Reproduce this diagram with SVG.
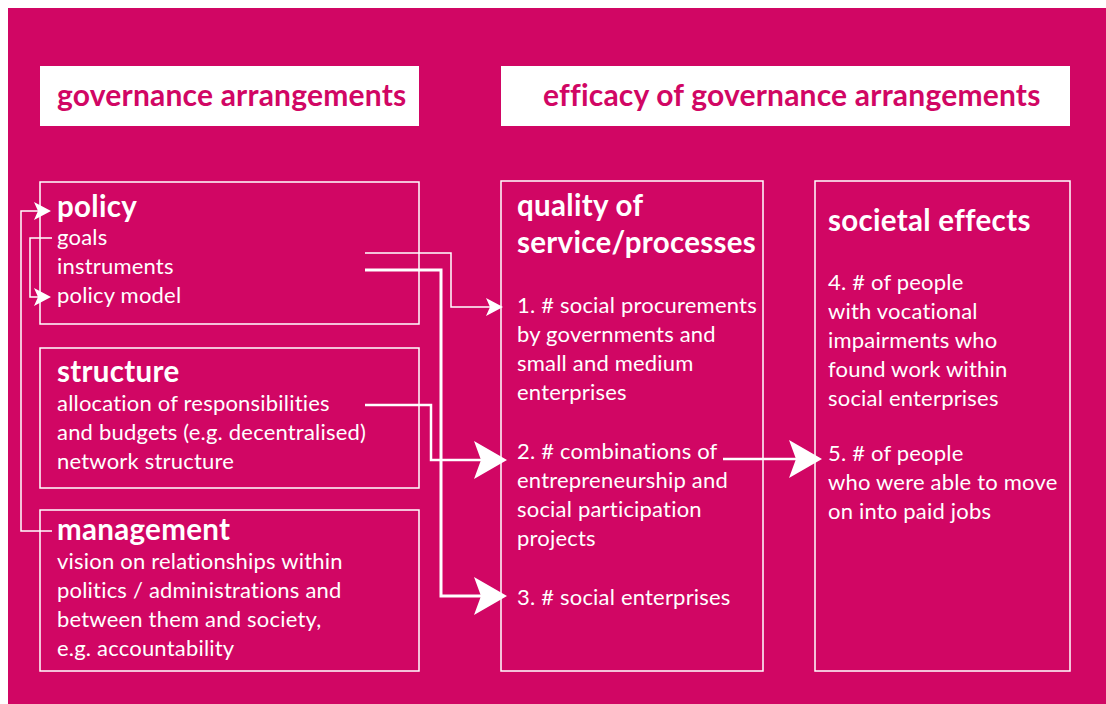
<svg xmlns="http://www.w3.org/2000/svg" width="1106" height="704" viewBox="0 0 1106 704">
<defs>
<style>
.bg{fill:#D10664}
.hdr{fill:#fff}
.box{fill:none;stroke:#fff;stroke-width:1.5}
.ht{font-family:Lato,"Liberation Sans",sans-serif;font-weight:bold;font-size:30px;letter-spacing:0.2px;fill:#D10664}
.tt{font-family:Lato,"Liberation Sans",sans-serif;font-weight:bold;font-size:29.5px;letter-spacing:0.3px;fill:#fff}
.bt{font-family:Lato,"Liberation Sans",sans-serif;font-size:22px;letter-spacing:0.2px;fill:#fff}
.ln{fill:none;stroke:#fff}
.ah{fill:#fff}
</style>
</defs>
<rect x="0" y="0" width="1106" height="704" fill="#fff"/>
<rect class="bg" x="8" y="8" width="1098" height="696"/>

<g id="header-governance">
<rect class="hdr" x="40" y="66" width="379" height="60"/>
<text class="ht" x="57" y="106">governance arrangements</text>
</g>
<g id="header-efficacy">
<rect class="hdr" x="501" y="66" width="569" height="60"/>
<text class="ht" x="543" y="106">efficacy of governance arrangements</text>
</g>

<g id="policy">
<rect class="box" x="40" y="182" width="379" height="142"/>
<text class="tt" x="57" y="217">policy</text>
<text class="bt" x="57" y="245">goals</text>
<text class="bt" x="57" y="274">instruments</text>
<text class="bt" x="57" y="303">policy model</text>
</g>

<g id="structure">
<rect class="box" x="40" y="348" width="379" height="140"/>
<text class="tt" x="57" y="382">structure</text>
<text class="bt" x="57" y="411">allocation of responsibilities</text>
<text class="bt" x="57" y="440">and budgets (e.g. decentralised)</text>
<text class="bt" x="57" y="469">network structure</text>
</g>

<g id="management">
<rect class="box" x="40" y="510" width="379" height="161"/>
<text class="tt" x="57" y="540">management</text>
<text class="bt" x="57" y="569">vision on relationships within</text>
<text class="bt" x="57" y="598">politics / administrations and</text>
<text class="bt" x="57" y="627">between them and society,</text>
<text class="bt" x="57" y="656">e.g. accountability</text>
</g>

<g id="quality">
<rect class="box" x="501" y="181" width="262" height="490"/>
<text class="tt" x="517" y="216">quality of</text>
<text class="tt" x="517" y="253">service/processes</text>
<text class="bt" x="517" y="313">1. # social procurements</text>
<text class="bt" x="517" y="342">by governments and</text>
<text class="bt" x="517" y="371">small and medium</text>
<text class="bt" x="517" y="400">enterprises</text>
<text class="bt" x="517" y="459">2. # combinations of</text>
<text class="bt" x="517" y="488">entrepreneurship and</text>
<text class="bt" x="517" y="517">social participation</text>
<text class="bt" x="517" y="546">projects</text>
<text class="bt" x="517" y="605">3. # social enterprises</text>
</g>

<g id="societal">
<rect class="box" x="815" y="181" width="255" height="490"/>
<text class="tt" x="828" y="231">societal effects</text>
<text class="bt" x="828" y="290">4. # of people</text>
<text class="bt" x="828" y="319">with vocational</text>
<text class="bt" x="828" y="348">impairments who</text>
<text class="bt" x="828" y="377">found work within</text>
<text class="bt" x="828" y="406">social enterprises</text>
<text class="bt" x="828" y="461">5. # of people</text>
<text class="bt" x="828" y="490">who were able to move</text>
<text class="bt" x="828" y="519">on into paid jobs</text>
</g>

<g id="connectors">
<path class="ln" stroke-width="1.5" d="M52,531 H21 V211 H40"/>
<polygon class="ah" points="51,211 34,202 38,211 34,220"/>
<path class="ln" stroke-width="1.5" d="M52,238 H30 V297 H40"/>
<polygon class="ah" points="51,297 34,288 38,297 34,306"/>
<path class="ln" stroke-width="1.5" d="M365,253 H451 V307 H490"/>
<polygon class="ah" points="503,307 486,298 490,307 486,316"/>
<path class="ln" stroke-width="3" d="M365,270 H441 V596 H485"/>
<polygon class="ah" points="507,596 474,577 481,596 474,615"/>
<path class="ln" stroke-width="2.5" d="M365,405 H431 V460 H485"/>
<polygon class="ah" points="507,460 474,441 481,460 474,479"/>
<path class="ln" stroke-width="2.5" d="M723,459 H800"/>
<polygon class="ah" points="822,459 789,440 796,459 789,478"/>
</g>
</svg>
